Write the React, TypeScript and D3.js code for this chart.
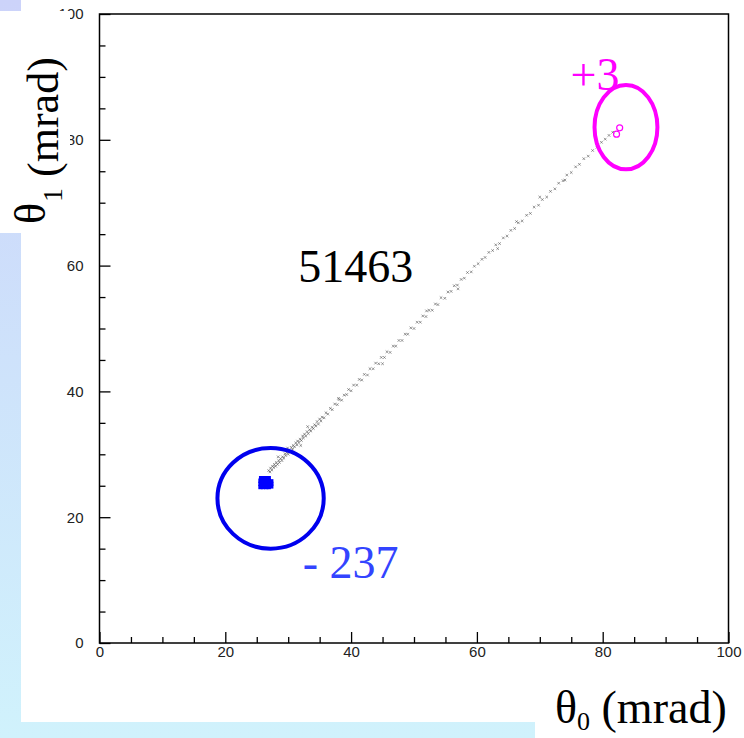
import React, { useEffect, useRef } from "react";
import * as d3 from "d3";

const WIDTH = 744;
const HEIGHT = 738;

// axis ticks (mrad)
const majorTicks = [0, 20, 40, 60, 80, 100];
const minorTicks = [5, 10, 15, 25, 30, 35, 45, 50, 55, 65, 70, 75, 85, 90, 95];

// theta0, theta1 of the grey hits along the diagonal
const diagonalPoints: [number, number][] = [
  [26.9, 27.4], [27.1, 27.2], [27.2, 27.8], [27.4, 27.5], [27.5, 28.1], [27.7, 27.9],
  [27.8, 28.4], [28.0, 28.1], [28.1, 28.7], [28.3, 28.4], [28.4, 29.6], [28.5, 29.0],
  [28.6, 28.7], [28.8, 29.3], [29.0, 29.0], [29.1, 29.6], [29.3, 29.4], [29.5, 30.1],
  [29.6, 29.8], [29.8, 30.3], [29.9, 31.0], [30.0, 30.0], [30.1, 30.7], [30.3, 30.5],
  [30.5, 31.1], [30.7, 30.8], [30.8, 31.4], [30.9, 30.3], [31.0, 31.2], [31.2, 31.8],
  [31.4, 31.5], [31.5, 32.1], [31.7, 31.9], [31.9, 32.4], [32.0, 31.4], [32.1, 32.2],
  [32.3, 32.9], [32.4, 32.6], [32.6, 33.2], [32.8, 32.9], [33.0, 33.6], [33.1, 34.4],
  [33.2, 33.3], [33.4, 33.9], [33.6, 33.7], [33.8, 34.3], [34.0, 34.1], [34.2, 34.7],
  [34.4, 34.5], [34.6, 35.2], [34.8, 34.8], [35.0, 35.6], [35.2, 35.3], [35.4, 35.9],
  [35.7, 35.8], [36.0, 36.6], [36.3, 36.4], [36.7, 37.3], [37.0, 37.1], [37.4, 38.0],
  [37.8, 37.9], [38.0, 38.9], [38.1, 38.7], [38.5, 38.6], [38.9, 39.4], [39.3, 39.5],
  [39.6, 40.3], [40.0, 40.1], [40.4, 41.0], [40.9, 41.0], [41.3, 41.9], [41.7, 41.8],
  [42.1, 42.7], [42.6, 42.6], [43.0, 43.6], [43.5, 43.6], [43.9, 44.5], [44.4, 44.4],
  [44.8, 45.4], [45.0, 44.4], [45.3, 45.4], [45.7, 46.3], [46.2, 46.2], [46.7, 47.2],
  [47.1, 47.2], [47.6, 48.1], [48.1, 48.1], [48.6, 49.1], [49.0, 49.1], [49.5, 50.1],
  [50.0, 50.0], [50.5, 51.0], [51.0, 51.0], [51.4, 52.0], [51.9, 51.9], [52.0, 52.8],
  [52.4, 52.9], [52.9, 52.9], [53.4, 53.9], [53.8, 53.8], [54.3, 54.9], [54.9, 54.8],
  [55.4, 55.8], [55.9, 55.9], [56.4, 56.8], [56.9, 56.9], [57.0, 56.3], [57.5, 57.8],
  [58.0, 58.0], [58.5, 58.9], [59.1, 59.0], [59.6, 59.9], [60.2, 60.3], [60.8, 61.0],
  [61.3, 61.3], [61.9, 62.1], [62.5, 62.4], [63.0, 63.3], [63.3, 62.7], [63.6, 63.5],
  [64.2, 64.4], [64.8, 64.7], [65.4, 65.6], [66.0, 65.9], [66.3, 67.0], [66.6, 66.8],
  [67.2, 67.1], [67.9, 68.0], [68.5, 68.3], [69.1, 69.3], [69.8, 69.6], [70.0, 70.9],
  [70.4, 70.5], [71.1, 70.9], [71.7, 71.8], [72.4, 72.2], [73.0, 73.1], [73.7, 73.5],
  [74.0, 73.6], [74.3, 74.4], [75.0, 74.8], [75.7, 75.7], [76.3, 76.1], [77.0, 77.0],
  [77.7, 77.4], [78.4, 78.3], [79.1, 78.8], [79.8, 79.6], [80.4, 80.1], [81.0, 80.7],
  [81.6, 81.2],
];

// dense blue spot near (26, 25)
const blueCluster: [number, number][] = [
  [25.6, 24.8], [26.0, 24.8], [26.5, 24.8], [26.9, 24.8], [27.3, 24.9],
  [25.6, 25.3], [26.0, 25.3], [26.5, 25.3], [26.9, 25.3], [27.3, 25.3],
  [25.6, 25.8], [26.0, 25.8], [26.5, 25.8], [26.9, 25.8], [27.3, 25.7],
  [25.7, 26.2], [26.1, 26.2], [26.5, 26.2], [26.9, 26.2],
];

// two magenta hits near (82, 81)
const magentaHits: [number, number][] = [
  [82.2, 80.9],
  [82.7, 81.9],
];

const countLabels = ["51463", "+3", "- 237"];

export default function App() {
  const ref = useRef<SVGSVGElement>(null);

  useEffect(() => {
    const svg = d3.select(ref.current);
    svg.selectAll("*").remove();

    const x = d3.scaleLinear().domain([0, 100]).range([99.5, 728.5]);
    const y = d3.scaleLinear().domain([0, 100]).range([643, 14]);

    // slide background (L shaped band)
    const defs = svg.append("defs");
    const grad = defs
      .append("linearGradient")
      .attr("id", "bandGrad")
      .attr("gradientUnits", "userSpaceOnUse")
      .attr("x1", 0)
      .attr("y1", 0)
      .attr("x2", 0)
      .attr("y2", HEIGHT);
    grad.append("stop").attr("offset", "0%").attr("stop-color", "#ccd3fa");
    grad.append("stop").attr("offset", "100%").attr("stop-color", "#d0f2fc");

    svg.append("rect").attr("x", 0).attr("y", 0).attr("width", 21).attr("height", HEIGHT).attr("fill", "url(#bandGrad)");
    svg.append("rect").attr("x", 0).attr("y", 722).attr("width", 535).attr("height", 16).attr("fill", "url(#bandGrad)");

    // axes
    const styleAxis = (g: any) => {
      g.select(".domain").remove();
      g.selectAll(".tick line").attr("stroke", "#000").attr("stroke-width", 1.3);
      g.selectAll("text")
        .attr("fill", "#222")
        .style("font-family", "'Liberation Sans', Arial, sans-serif")
        .style("font-size", "15px");
    };

    svg
      .append("g")
      .attr("transform", `translate(0,${y(0)})`)
      .call(d3.axisBottom(x).tickValues(majorTicks).tickSize(-11).tickPadding(3).tickFormat(d3.format("d")))
      .call(styleAxis);
    svg
      .append("g")
      .attr("transform", `translate(0,${y(0)})`)
      .call(d3.axisBottom(x).tickValues(minorTicks).tickSize(-6).tickFormat(() => ""))
      .call(styleAxis);
    svg
      .append("g")
      .attr("transform", `translate(${x(0)},0)`)
      .call(d3.axisLeft(y).tickValues(majorTicks).tickSize(-11).tickPadding(16).tickFormat(d3.format("d")))
      .call(styleAxis);
    svg
      .append("g")
      .attr("transform", `translate(${x(0)},0)`)
      .call(d3.axisLeft(y).tickValues(minorTicks).tickSize(-6).tickFormat(() => ""))
      .call(styleAxis);

    svg
      .append("rect")
      .attr("x", x(0))
      .attr("y", y(100))
      .attr("width", x(100) - x(0))
      .attr("height", y(0) - y(100))
      .attr("fill", "none")
      .attr("stroke", "#000")
      .attr("stroke-width", 1.5);

    // grey hits, drawn as tiny crosses
    svg
      .append("g")
      .selectAll("path")
      .data(diagonalPoints)
      .join("path")
      .attr("transform", (d) => `translate(${x(d[0])},${y(d[1])})`)
      .attr("d", "M-1.3,-1.3L1.3,1.3M-1.3,1.3L1.3,-1.3")
      .attr("fill", "none")
      .attr("stroke", "#555")
      .attr("stroke-width", 0.8)
      .attr("opacity", 0.75);

    svg
      .append("g")
      .selectAll("rect")
      .data(blueCluster)
      .join("rect")
      .attr("x", (d) => x(d[0]) - 2.2)
      .attr("y", (d) => y(d[1]) - 2.2)
      .attr("width", 4.4)
      .attr("height", 4.4)
      .attr("fill", "#0000ff");

    svg
      .append("g")
      .selectAll("circle")
      .data(magentaHits)
      .join("circle")
      .attr("cx", (d) => x(d[0]))
      .attr("cy", (d) => y(d[1]))
      .attr("r", 3)
      .attr("fill", "none")
      .attr("stroke", "#ff00ff")
      .attr("stroke-width", 1.2);

    // selection ellipses
    const drawEllipse = (cx: number, cy: number, rx: number, ry: number, color: string) =>
      svg
        .append("ellipse")
        .attr("cx", x(cx))
        .attr("cy", y(cy))
        .attr("rx", x(cx + rx) - x(cx))
        .attr("ry", y(cy) - y(cy + ry))
        .attr("fill", "none")
        .attr("stroke", color)
        .attr("stroke-width", 4);
    drawEllipse(27.2, 23.0, 8.45, 8.0, "#0000ee");
    drawEllipse(83.7, 82.0, 5.0, 6.7, "#ff00ff");

    const serif = "'Liberation Serif', 'Times New Roman', serif";
    const label = (text: string, px: number, py: number, color: string) =>
      svg
        .append("text")
        .attr("x", x(px))
        .attr("y", y(py))
        .attr("fill", color)
        .style("font-family", serif)
        .style("font-size", "46px")
        .text(text);
    label(countLabels[0], 31.6, 57.4, "#000");
    label(countLabels[1], 74.9, 87.9, "#ff00ff");
    label(countLabels[2], 32.3, 10.3, "#3344ff");

    // y title (white box over the band)
    svg.append("rect").attr("x", 0).attr("y", 11).attr("width", 70).attr("height", 222).attr("fill", "#fff");
    const yt = svg
      .append("text")
      .attr("transform", "translate(58,224) rotate(-90)")
      .attr("fill", "#000")
      .style("font-family", serif)
      .style("font-size", "44px");
    yt.append("tspan").attr("dy", -13).text("θ");
    yt.append("tspan").attr("dy", 17).attr("dx", 1).style("font-size", "28px").text("1");
    yt.append("tspan").attr("dy", -4).text(" (mrad)");

    // x title
    const xt = svg
      .append("text")
      .attr("x", 555)
      .attr("y", 723)
      .attr("fill", "#000")
      .style("font-family", serif)
      .style("font-size", "46px");
    xt.append("tspan").text("θ");
    xt.append("tspan").attr("dy", 7).style("font-size", "26px").text("0");
    xt.append("tspan").attr("dy", -7).text(" (mrad)");
  }, []);

  return (
    <div style={{ position: "absolute", left: 0, top: 0, width: WIDTH, height: HEIGHT, background: "#fff" }}>
      <svg ref={ref} width={WIDTH} height={HEIGHT} style={{ display: "block" }} />
    </div>
  );
}
